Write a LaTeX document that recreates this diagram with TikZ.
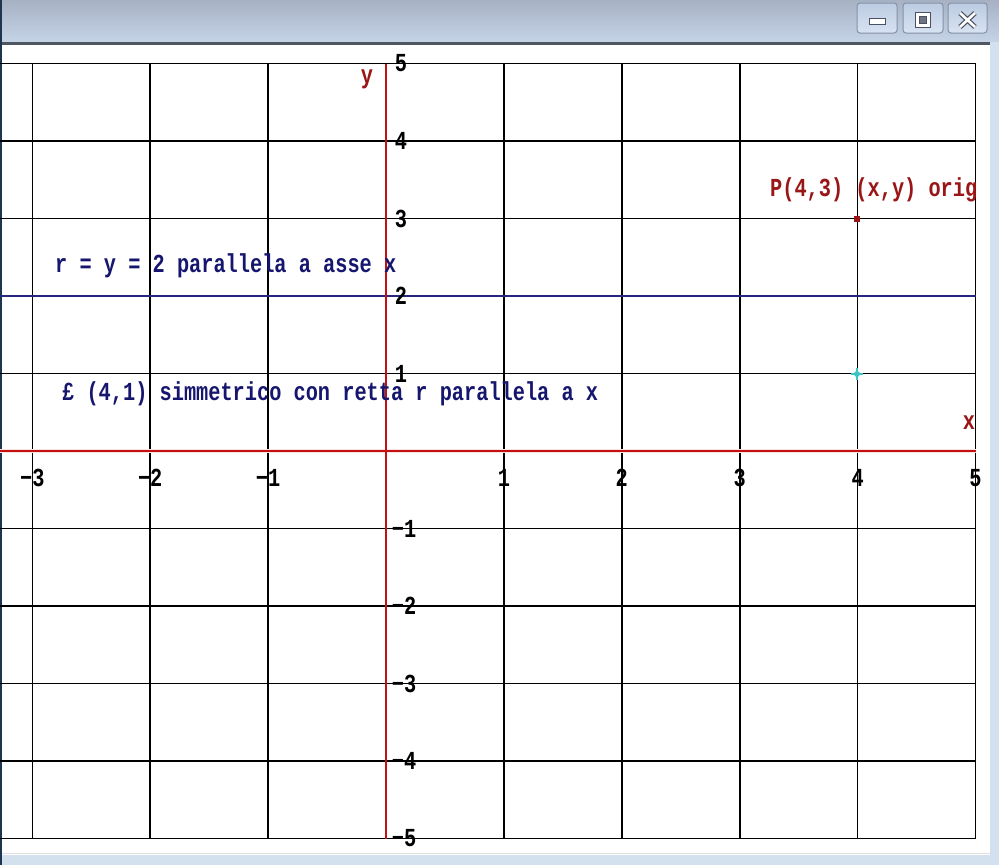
\documentclass[tikz,border=0pt]{standalone}
\usepackage{fontspec}
\newfontfamily\plotfont{Liberation Mono}
\definecolor{tbtop}{HTML}{A6B1C3}
\definecolor{tbbot}{HTML}{C6D4E8}
\definecolor{tbline}{HTML}{4E565F}
\definecolor{framebl}{HTML}{D3E0EE}
\definecolor{leftdark}{HTML}{1E3550}
\definecolor{axred}{HTML}{C41010}
\definecolor{txred}{HTML}{9A1616}
\definecolor{navy}{HTML}{16166E}
\definecolor{rblue}{HTML}{26267E}
\definecolor{cyanpt}{HTML}{3CC4C4}
\definecolor{btnborder}{HTML}{8491A6}
\definecolor{btntop}{HTML}{BCCBE2}
\definecolor{btnbot}{HTML}{D8E3F2}
\definecolor{icondark}{HTML}{4A5262}
\newcommand{\tallt}[1]{\scalebox{1}[1.28]{#1}}
\begin{document}
\begin{tikzpicture}[x=1pt,y=-1pt,
  gridline/.style={line width=1.6pt,black},
  axisline/.style={line width=1.1pt,color=axred},
  axisglow/.style={line width=4pt,color=axred!12},
  rline/.style={line width=1.4pt,color=rblue},
  lbl/.style={font=\plotfont\bfseries\fontsize{20.3}{20.3}\selectfont,inner sep=0pt},
  ticklbl/.style={lbl,black,anchor=center},
  btn/.style={draw=btnborder,line width=1pt,rounded corners=3pt,top color=btntop,bottom color=btnbot}]
\useasboundingbox (0,0) rectangle (999,865);
\fill[white] (0,0) rectangle (999,865);
% window title bar and frame
\shade[top color=tbtop,bottom color=tbbot] (0,0) rectangle (999,42);
\fill[tbline] (0,42) rectangle (990,45);
\fill[framebl] (990,42) rectangle (999,865);
\fill[framebl] (0,855) rectangle (999,865);
\draw[gray!25,line width=0.8pt] (0,853) -- (990,853);
\fill[leftdark] (0,0) rectangle (1.6,865);
% buttons
\shadedraw[btn] (857,3) rectangle (897,33);
\shadedraw[btn] (903,3) rectangle (943,33);
\shadedraw[btn] (948,3) rectangle (987,33);
\draw[fill=white,draw=icondark,line width=1pt] (869,18) rectangle (885,24);
\draw[fill=white,draw=icondark,line width=1pt] (915,12) rectangle (930,27);
\draw[fill=icondark!80,draw=icondark,line width=0.8pt] (919,16) rectangle (926,23);
\draw[icondark,line width=5pt] (960,13) -- (975,27) (975,13) -- (960,27);
\draw[white,line width=2.6pt] (960,13) -- (975,27) (975,13) -- (960,27);
% grid
\foreach \i in {-3,-2,-1,1,2,3,4,5}
  \draw[gridline] ({386+117.9*\i},63.5) -- ({386+117.9*\i},838.5);
\foreach \j in {-5,-4,-3,-2,-1,1,3,4,5}
  \draw[gridline] (0,{451-77.5*\j}) -- (975.5,{451-77.5*\j});
% line r: y = 2
\draw[rline] (0,296) -- (975.5,296);
% axes
\draw[axisglow] (0,451) -- (975.5,451);
\draw[axisline] (0,451) -- (975.5,451);
\draw[axisline] (386,63.5) -- (386,838.5);
\node[lbl,txred] (ylab) at (367,79) {\tallt{y}};
\node[lbl,txred] (xlab) at (969,423) {\tallt{x}};
% y tick labels
\foreach \j in {1,...,5}
  \node[ticklbl] (ty\j) at (401,{451-77.5*\j}) {\tallt{\j}};
\foreach \j in {1,...,5}
  \node[ticklbl] (tym\j) at (404,{451+77.5*\j}) {\tallt{−\j}};
% x tick labels
\foreach \i in {1,...,5}
  \node[ticklbl] (tx\i) at ({386+117.9*\i},478) {\tallt{\i}};
\foreach \i in {1,2,3}
  \node[ticklbl] (txm\i) at ({386-117.9*\i},478) {\tallt{−\i}};
% points
\fill[txred] (854,216) rectangle (860,222);
\fill[cyanpt] (857,374) circle (3pt);
\draw[cyanpt,line width=1.4pt] (851,374) -- (863,374) (857,368) -- (857,380);
% texts
\node[lbl,txred,anchor=base west] (ptxt) at (770,196) {\tallt{P(4,3) (x,y) orig}};
\node[lbl,navy,anchor=base west] (rtxt) at (55,272) {\tallt{r = y = 2 parallela a asse x}};
\node[lbl,navy,anchor=base west] (stxt) at (62,400) {\tallt{£ (4,1) simmetrico con retta r parallela a x}};
\end{tikzpicture}
\end{document}
